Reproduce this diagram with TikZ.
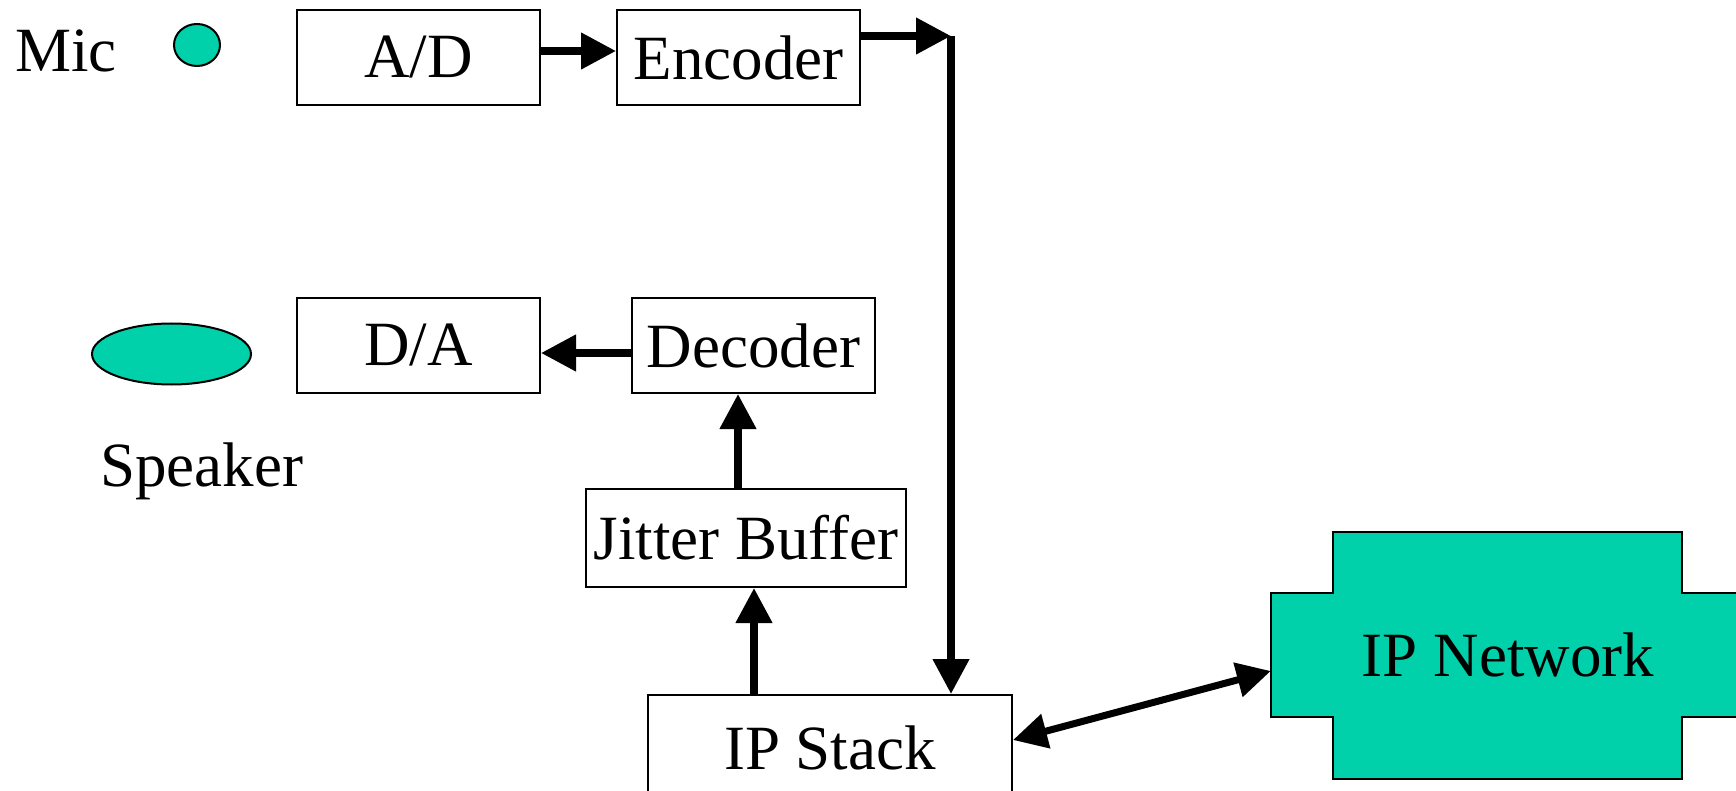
\documentclass[tikz,border=0pt]{standalone}
\usepackage{fontspec}
\setmainfont{Liberation Serif}
\usetikzlibrary{arrows.meta,shapes.geometric}
\definecolor{netgreen}{HTML}{00D1AA}
\tikzset{
  box/.style={draw=black, line width=2pt, rectangle, inner sep=0pt, font=\fontsize{63}{70}\selectfont},
  flow/.style={line width=7.5pt, -{Triangle[length=35pt,width=35pt]}},
  twoway/.style={line width=7pt, {Triangle[length=34pt,width=34pt]}-{Triangle[length=34pt,width=34pt]}},
  label/.style={inner sep=0pt, font=\fontsize{63}{70}\selectfont},
  dev/.style={draw=black, line width=2pt, fill=netgreen, ellipse, inner sep=0pt}
}
\begin{document}
\begin{tikzpicture}[x=1pt, y=-1pt]
  \clip (0,0) rectangle (1736,791);
  \fill[white] (0,0) rectangle (1736,791);

  % microphone and speaker
  \node[label, anchor=base west] (miclbl) at (15,72) {Mic};
  \node[dev, minimum width=46pt, minimum height=42pt] (mic) at (197,45) {};
  \node[dev, minimum width=159pt, minimum height=61pt] (spk) at (171.5,354) {};
  \node[label, anchor=base west] (spklbl) at (100,486) {Speaker};

  % processing blocks
  \node[box, minimum width=243pt, minimum height=95pt] (ad)  at (418.5,57.5)  {A/D};
  \node[box, minimum width=243pt, minimum height=95pt] (enc) at (738.5,57.5)  {Encoder};
  \node[box, minimum width=243pt, minimum height=95pt] (da)  at (418.5,345.5) {D/A};
  \node[box, minimum width=243pt, minimum height=95pt] (dec) at (753.5,345.5) {Decoder};
  \node[box, minimum width=320pt, minimum height=98pt] (jit) at (746,538)     {Jitter Buffer};
  \node[box, minimum width=364pt, minimum height=106pt] (ips) at (830,748)    {IP Stack};

  % network cloud (cross-shaped block)
  \fill[netgreen, draw=black, line width=2pt]
    (1333,532) -- (1682,532) -- (1682,593) -- (1745,593) -- (1745,717) -- (1682,717)
    -- (1682,779) -- (1333,779) -- (1333,717) -- (1271,717) -- (1271,593) -- (1333,593) -- cycle;
  \node[label, minimum width=474pt, minimum height=124pt] (net) at (1508,655) {IP Network};

  % signal path
  \coordinate (turn) at (951,36);
  \draw[flow] (ad.east |- 0,51) -- (enc.west |- 0,51);
  \draw[flow] (enc.east |- turn) -- (turn);
  \draw[line width=7.5pt] (turn) -- ++(0,10);
  \draw[flow] (turn) -- (ips.north -| turn);
  \draw[flow] (ips.north -| 754,0) -- (jit.south -| 754,0);
  \draw[flow] (jit.north -| 738,0) -- (dec.south -| 738,0);
  \draw[flow] (dec.west |- 0,353) -- (da.east |- 0,353);
  \draw[twoway] (ips.east |- 0,740) -- (net.west |- 0,671);
\end{tikzpicture}
\end{document}
